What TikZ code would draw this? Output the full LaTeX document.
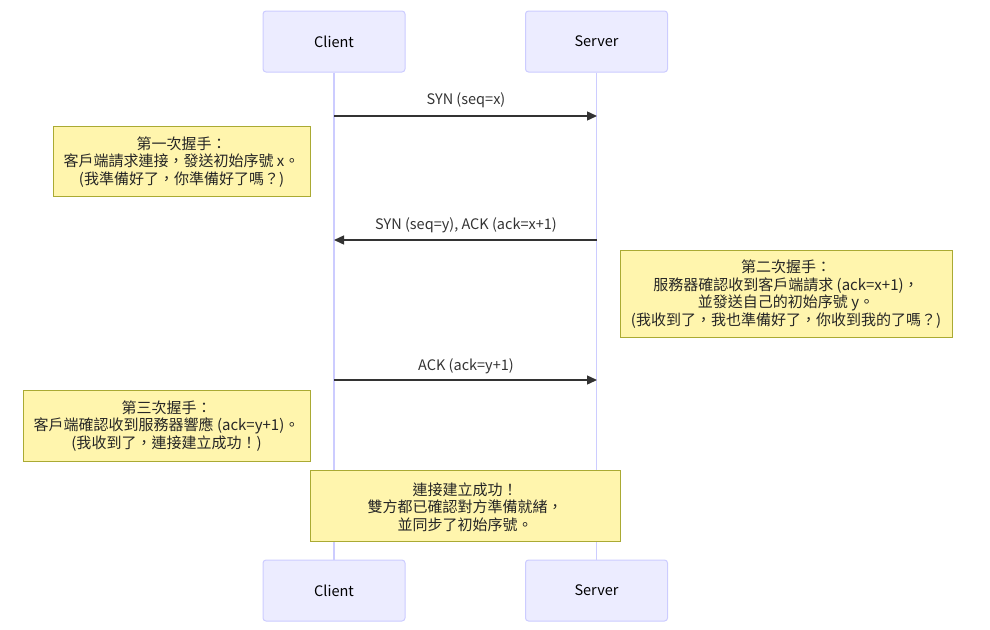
\documentclass[tikz,border=0pt]{standalone}
\usepackage{fontspec}
\setmainfont{Noto Sans CJK TC}
\usetikzlibrary{arrows.meta}
\definecolor{actfill}{HTML}{ECECFF}
\definecolor{actline}{HTML}{CCCCFF}
\definecolor{notefill}{HTML}{FFF5AD}
\definecolor{noteline}{HTML}{AAAA33}
\definecolor{msgline}{HTML}{333333}
\tikzset{
  actor/.style={draw=actline, fill=actfill, rounded corners=3pt, line width=1pt, minimum width=142pt, minimum height=61pt, font=\fontsize{14.5}{16}\selectfont, inner sep=0pt},
  life/.style={draw=actline, line width=1.2pt},
  msg/.style={draw=msgline, line width=1.4pt, -{Triangle[length=10pt,width=9pt]}},
  msglabel/.style={font=\fontsize{14.5}{16}\selectfont, text=msgline, inner sep=0pt},
  notebox/.style={draw=noteline, fill=notefill, line width=0.8pt},
  note/.style={align=center, font=\fontsize{15}{17.5}\selectfont, inner sep=0pt, text=black!85}
}
\begin{document}
\begin{tikzpicture}[x=1pt,y=-1pt]
\useasboundingbox (0,0) rectangle (990,629);
% actors
\node[actor] (ct) at (334,41.5) {Client};
\node[actor] (st) at (596.5,41.5) {Server};
\node[actor] (cb) at (334,590.5) {Client};
\node[actor] (sb) at (596.5,590.5) {Server};
% lifelines
\draw[life] (ct.south) -- (cb.north);
\draw[life] (st.south) -- (sb.north);
% messages
\coordinate (m1a) at (334,116); \coordinate (m1b) at (597,116);
\draw[msg] (m1a) -- (m1b);
\node[msglabel] (l1) at (466,100) {SYN (seq=x)};
\coordinate (m2a) at (597,240); \coordinate (m2b) at (334,240);
\draw[msg] (m2a) -- (m2b);
\node[msglabel] (l2) at (466,225) {SYN (seq=y), ACK (ack=x+1)};
\coordinate (m3a) at (334,380); \coordinate (m3b) at (597,380);
\draw[msg] (m3a) -- (m3b);
\node[msglabel] (l3) at (466,366) {ACK (ack=y+1)};
% notes
\draw[notebox] (53,126) rectangle (310,196);
\node[note] (n1) at (181.5,162) {第一次握手：\\客戶端請求連接，發送初始序號 x。\\(我準備好了，你準備好了嗎？)};
\draw[notebox] (620,250) rectangle (952,337);
\node[note] (n2) at (786,294) {第二次握手：\\服務器確認收到客戶端請求 (ack=x+1)，\\並發送自己的初始序號 y。\\(我收到了，我也準備好了，你收到我的了嗎？)};
\draw[notebox] (23,390) rectangle (310,461);
\node[note] (n3) at (166.5,426) {第三次握手：\\客戶端確認收到服務器響應 (ack=y+1)。\\(我收到了，連接建立成功！)};
\draw[notebox] (310,470) rectangle (620,541);
\node[note] (n4) at (465,507) {連接建立成功！\\雙方都已確認對方準備就緒，\\並同步了初始序號。};
\end{tikzpicture}
\end{document}
